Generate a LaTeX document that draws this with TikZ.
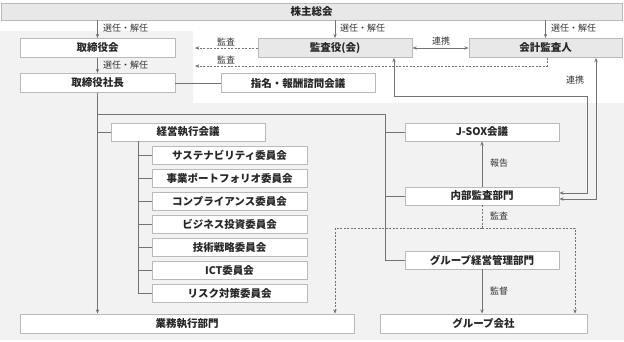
\documentclass[tikz,border=0pt]{standalone}
\usepackage{fontspec}
\setmainfont{Noto Sans CJK JP}
\usepackage{tikz}
\usetikzlibrary{arrows.meta}

\begin{document}
\begin{tikzpicture}[x=1pt,y=-1pt,>={Stealth[length=1.5mm,width=1.2mm]},
  box/.style={draw=black!27,fill=white,line width=0.8pt,minimum height=18pt,inner sep=0pt,font=\fontsize{10.5}{12}\selectfont\bfseries,text=black!85},
  graybox/.style={box,fill=black!9},
  lbl/.style={font=\fontsize{9}{10}\selectfont,text=black!80,inner sep=1pt},
  link/.style={draw=black!55,line width=0.9pt},
  audit/.style={link,dash pattern=on 2pt off 1.5pt}]
  \useasboundingbox (0,0) rectangle (624,342);
  \fill[black!5] (0,31) -- (193,31) -- (193,103) -- (624,103) -- (624,340) -- (0,340) -- cycle;
  \node[graybox,minimum width=621pt,minimum height=17pt] (kabunushi) at (311.5,11.5) {株主総会};
  \node[box,minimum width=155pt,minimum height=19pt] (torishimari) at (97.5,48) {取締役会};
  \node[box,minimum width=155pt,minimum height=19pt] (shacho) at (97.5,83) {取締役社長};
  \node[box,minimum width=154pt,minimum height=19pt] (shimei) at (298,83) {指名・報酬諮問会議};
  \node[graybox,minimum width=154pt,minimum height=19pt] (kansayaku) at (335,48) {監査役(会)};
  \node[graybox,minimum width=153pt,minimum height=19pt] (kaikei) at (545.5,48) {会計監査人};
  \node[box,minimum width=154pt] (keiei) at (188,132) {経営執行会議};
  \node[box,minimum width=155pt] (sus) at (229.5,155.5) {サステナビリティ委員会};
  \node[box,minimum width=155pt] (portfolio) at (229.5,178.5) {事業ポートフォリオ委員会};
  \node[box,minimum width=155pt] (compliance) at (229.5,201.5) {コンプライアンス委員会};
  \node[box,minimum width=155pt] (toshi) at (229.5,224.5) {ビジネス投資委員会};
  \node[box,minimum width=155pt] (gijutsu) at (229.5,247.5) {技術戦略委員会};
  \node[box,minimum width=155pt] (ict) at (229.5,270.5) {ICT委員会};
  \node[box,minimum width=155pt] (risk) at (229.5,293.5) {リスク対策委員会};
  \node[box,minimum width=154pt] (jsox) at (482,132) {J-SOX会議};
  \node[box,minimum width=154pt] (naibu) at (482,196) {内部監査部門};
  \node[box,minimum width=154pt] (kanri) at (482,260) {グループ経営管理部門};
  \node[box,minimum width=334pt,minimum height=19pt] (gyomu) at (187,323.5) {業務執行部門};
  \node[box,minimum width=207pt,minimum height=19pt] (group) at (483.5,323.5) {グループ会社};
  \coordinate (kansaEnd) at (195,48);
  \coordinate (kaikeiEnd) at (195,66);
  \coordinate (split) at (97.5,114);
  \coordinate (auditbar) at (482,228);
  \draw[link,->] (kabunushi.south -| torishimari) -- (torishimari);
  \draw[link,->] (kabunushi.south -| kansayaku) -- (kansayaku);
  \draw[link,->] (kabunushi.south -| kaikei) -- (kaikei);
  \draw[link,->] (torishimari) -- (shacho);
  \draw[link,<->] (kansayaku) -- (kaikei);
  \draw[audit,->] (kansayaku) -- (kansaEnd);
  \draw[audit,->] ([xshift=1.5pt]kaikei.south) |- (kaikeiEnd);
  \draw[link] (shacho) -- (shimei);
  \draw[link,->] (shacho.south) -- (shacho.south |- gyomu.north);
  \draw[link] (shacho.south |- keiei.west) -- (keiei.west);
  \draw[link] (split) -| ([xshift=-19pt]kanri.west) -- (kanri.west);
  \draw[link] ([xshift=-19pt]jsox.west) -- (jsox.west);
  \draw[link] ([xshift=-19pt]naibu.west) -- (naibu.west);
  \draw[link] ([xshift=-50pt]keiei.south) |- (risk.west);
  \draw[link] ([xshift=-14pt]sus.west) -- (sus.west);
  \draw[link] ([xshift=-14pt]portfolio.west) -- (portfolio.west);
  \draw[link] ([xshift=-14pt]compliance.west) -- (compliance.west);
  \draw[link] ([xshift=-14pt]toshi.west) -- (toshi.west);
  \draw[link] ([xshift=-14pt]gijutsu.west) -- (gijutsu.west);
  \draw[link] ([xshift=-14pt]ict.west) -- (ict.west);
  \draw[link,->] (naibu) -- (jsox);
  \draw[link,->] (kanri) -- (kanri |- group.north);
  \draw[audit] (naibu) -- (auditbar);
  \draw[audit,->] (auditbar) -| ([xshift=148pt]gyomu.north);
  \draw[audit,->] (auditbar) -| ([xshift=91.5pt]group.north);
  \draw[link,<->] ([xshift=59pt]kansayaku.south) -- ++(0,38.5) -- ++(193,0) |- ([yshift=3pt]naibu.east);
  \draw[link,<->] ([xshift=50.5pt]kaikei.south) |- ([yshift=-3pt]naibu.east);
  \node[lbl,anchor=west] (sennin1) at (102,28.5) {選任・解任};
  \node[lbl,anchor=west] (sennin2) at (339,28.5) {選任・解任};
  \node[lbl,anchor=west] (sennin3) at (550,28.5) {選任・解任};
  \node[lbl,anchor=west] (sennin4) at (102,65) {選任・解任};
  \node[lbl] (renkei1) at (441,41.5) {連携};
  \node[lbl] (kansa1) at (226,41.5) {監査};
  \node[lbl] (kansa2) at (226,59.5) {監査};
  \node[lbl] (renkei2) at (575,80) {連携};
  \node[lbl] (hokoku) at (499,163) {報告};
  \node[lbl] (kansa3) at (499,216) {監査};
  \node[lbl] (kantoku) at (499,291) {監督};
\end{tikzpicture}
\end{document}
